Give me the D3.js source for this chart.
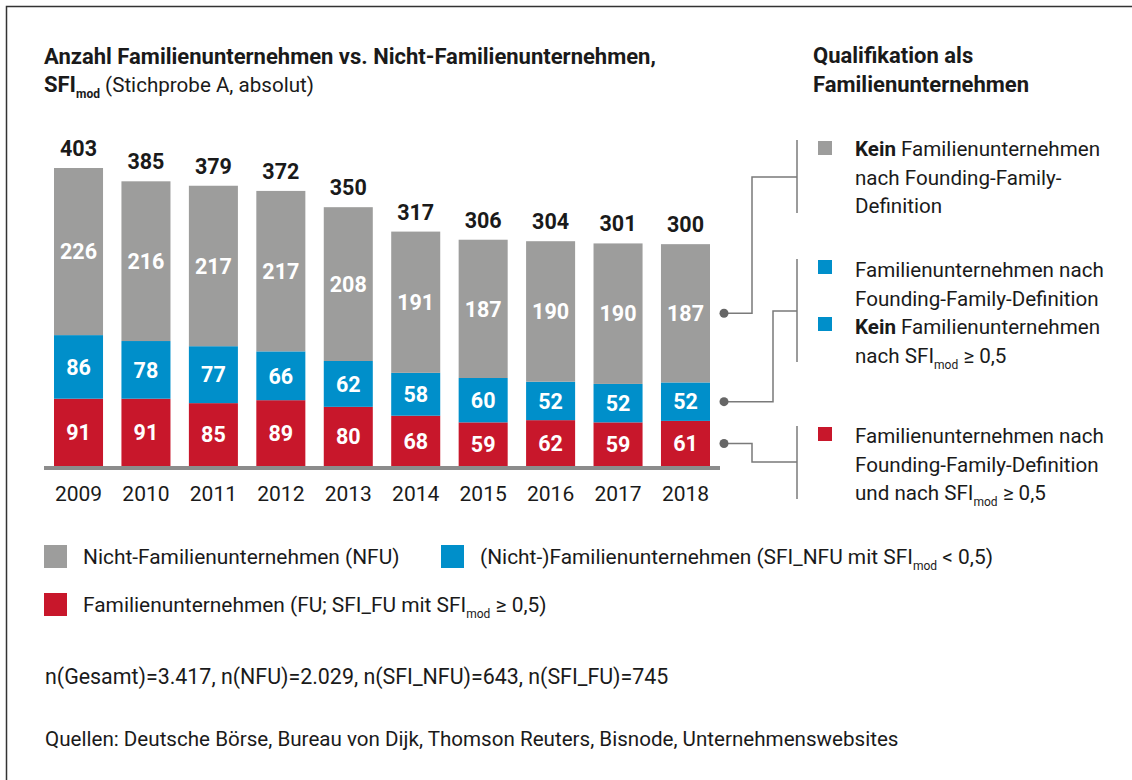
<!DOCTYPE html>
<html>
<head>
<meta charset="utf-8">
<script src="https://cdn.jsdelivr.net/npm/d3@7"></script>
<style>
  body { margin: 0; background: #fff; }
  svg { display: block; }
  text { font-family: Roboto, "Liberation Sans", sans-serif; fill: #1a1a1a; }
</style>
</head>
<body>
<svg id="chart" width="1132" height="780"></svg>
<script>
// Werte aus der Grafik
const years = ['2009', '2010', '2011', '2012', '2013', '2014', '2015', '2016', '2017', '2018']
const fu = [91, 91, 85, 89, 80, 68, 59, 62, 59, 61]          // Familienunternehmen
const sfiNfu = [86, 78, 77, 66, 62, 58, 60, 52, 52, 52]      // (Nicht-)Familienunternehmen
const nfu = [226, 216, 217, 217, 208, 191, 187, 190, 190, 187] // Nicht-Familienunternehmen
const seriesKeys = ['fu', 'sfiNfu', 'nfu']
const seriesColors = { fu: '#c8172b', sfiNfu: '#008fca', nfu: '#9d9d9c' }

const svg = d3.select('#chart')
const bodySize = 20.6
const headSize = 22

// rahmen oben und links
svg.append('path')
    .attr('d', 'M6.5,780 V6.5 H1132')
    .attr('fill', 'none')
    .attr('stroke', '#333')
    .attr('stroke-width', 1.5)

// text mit fett / tiefgestellt
function richText(sel, x, y, parts, size) {
    let t = sel.append('text').attr('x', x).attr('y', y).style('font-size', size + 'px')
    let shifted = 0
    parts.forEach(function (p) {
        let dy = 0
        if (p.sub && !shifted) { dy = 6; shifted = 6 }
        else if (!p.sub && shifted) { dy = -6; shifted = 0 }
        t.append('tspan')
            .attr('dy', dy)
            .style('font-weight', p.b ? 'bold' : 'normal')
            .style('font-size', p.sub ? '12px' : (p.size ? p.size + 'px' : null))
            .text(p.t)
    })
    return t
}

// titel
richText(svg, 44, 64, [{ t: 'Anzahl Familienunternehmen vs. Nicht-Familienunternehmen,', b: true }], headSize)
richText(svg, 44, 92, [{ t: 'SFI', b: true }, { t: 'mod', b: true, sub: true }, { t: ' (Stichprobe A, absolut)', size: bodySize }], headSize)
richText(svg, 813, 63, [{ t: 'Qualifikation als', b: true }], headSize)
richText(svg, 813, 92, [{ t: 'Familienunternehmen', b: true }], headSize)

// skalen
const x = d3.scaleBand().domain(years).range([54, 710]).paddingInner(0.273)
const y = d3.scaleLinear().domain([0, 403]).range([466, 168])

const rows = years.map(function (yr, i) {
    return { year: yr, fu: fu[i], sfiNfu: sfiNfu[i], nfu: nfu[i] }
})
const stacked = d3.stack().keys(seriesKeys)(rows)

const g = svg.append('g')

const layers = g.selectAll('.layer')
    .data(stacked)
    .enter()
    .append('g')
    .attr('fill', function (d) { return seriesColors[d.key] })

layers.selectAll('rect')
    .data(function (d) { return d })
    .enter()
    .append('rect')
    .attr('x', function (d) { return x(d.data.year) })
    .attr('width', x.bandwidth())
    .attr('y', function (d) { return y(d[1]) })
    .attr('height', function (d) { return y(d[0]) - y(d[1]) })

// werte in den segmenten
layers.selectAll('.val')
    .data(function (d) { return d })
    .enter()
    .append('text')
    .attr('x', function (d) { return x(d.data.year) + x.bandwidth() / 2 })
    .attr('y', function (d) { return (y(d[0]) + y(d[1])) / 2 })
    .attr('dy', '0.36em')
    .attr('text-anchor', 'middle')
    .style('fill', '#fff')
    .style('font-weight', 'bold')
    .style('font-size', '21.5px')
    .text(function (d) { return d[1] - d[0] })

// summen
const topLayer = stacked[stacked.length - 1]
g.selectAll('.total')
    .data(topLayer)
    .enter()
    .append('text')
    .attr('x', function (d) { return x(d.data.year) + x.bandwidth() / 2 })
    .attr('y', function (d) { return y(d[1]) - 12 })
    .attr('text-anchor', 'middle')
    .style('font-weight', 'bold')
    .style('font-size', '21.5px')
    .text(function (d) { return d[1] })

// grundlinie
g.append('rect')
    .attr('x', 44).attr('y', y(0))
    .attr('width', 676).attr('height', 4)
    .attr('fill', '#8c8c8c')

// x-achse
const xAxis = g.append('g')
    .attr('transform', 'translate(0,' + (y(0) + 4) + ')')
    .call(d3.axisBottom(x).tickSize(0).tickPadding(0))
xAxis.select('.domain').remove()
xAxis.selectAll('text')
    .attr('dy', 0)
    .attr('y', 31)
    .style('font-family', 'Roboto, "Liberation Sans", sans-serif')
    .style('font-size', '21px')
    .style('fill', '#1a1a1a')

// rechte erklaerung
const note = svg.append('g')
const last = years.length - 1
const dotX = x(years[last]) + x.bandwidth() + 14
const bracketX = 797
const groups = [
    { key: 'nfu', top: 140, bottom: 213, joinY: 177, elbowX: 752 },
    { key: 'sfiNfu', top: 259, bottom: 362, joinY: 311, elbowX: 773 },
    { key: 'fu', top: 426, bottom: 499, joinY: 462, elbowX: 752 }
]
groups.forEach(function (gr) {
    const layer = stacked.find(function (s) { return s.key == gr.key })
    const seg = layer[last]
    const dotY = (y(seg[0]) + y(seg[1])) / 2
    note.append('line')
        .attr('x1', bracketX).attr('x2', bracketX)
        .attr('y1', gr.top).attr('y2', gr.bottom)
        .attr('stroke', '#7a7a7a').attr('stroke-width', 1.5)
    note.append('path')
        .attr('d', 'M' + dotX + ',' + dotY + ' H' + gr.elbowX + ' V' + gr.joinY + ' H' + bracketX)
        .attr('fill', 'none')
        .attr('stroke', '#7a7a7a').attr('stroke-width', 1.5)
    note.append('circle')
        .attr('cx', dotX).attr('cy', dotY).attr('r', 4.5)
        .attr('fill', '#666')
})

const noteItems = [
    { color: seriesColors.nfu, sq: 141, lines: [
        [{ t: 'Kein', b: true }, { t: ' Familienunternehmen' }],
        [{ t: 'nach Founding-Family-' }],
        [{ t: 'Definition' }]], base: 156 },
    { color: seriesColors.sfiNfu, sq: 260, lines: [
        [{ t: 'Familienunternehmen nach' }],
        [{ t: 'Founding-Family-Definition' }]], base: 277 },
    { color: seriesColors.sfiNfu, sq: 317, lines: [
        [{ t: 'Kein', b: true }, { t: ' Familienunternehmen' }],
        [{ t: 'nach SFI' }, { t: 'mod', sub: true }, { t: ' ≥ 0,5' }]], base: 334 },
    { color: seriesColors.fu, sq: 427, lines: [
        [{ t: 'Familienunternehmen nach' }],
        [{ t: 'Founding-Family-Definition' }],
        [{ t: 'und nach SFI' }, { t: 'mod', sub: true }, { t: ' ≥ 0,5' }]], base: 443 }
]
noteItems.forEach(function (it) {
    note.append('rect')
        .attr('x', 818).attr('y', it.sq)
        .attr('width', 14).attr('height', 14)
        .attr('fill', it.color)
    it.lines.forEach(function (ln, j) {
        richText(note, 855, it.base + j * 28.7, ln, bodySize)
    })
})

// legende
const legend = svg.append('g')
const legendItems = [
    { key: 'nfu', x: 44, y: 545, parts: [{ t: 'Nicht-Familienunternehmen (NFU)' }] },
    { key: 'sfiNfu', x: 441, y: 545, parts: [{ t: '(Nicht-)Familienunternehmen (SFI_NFU mit SFI' }, { t: 'mod', sub: true }, { t: ' < 0,5)' }] },
    { key: 'fu', x: 44, y: 593, parts: [{ t: 'Familienunternehmen (FU; SFI_FU mit SFI' }, { t: 'mod', sub: true }, { t: ' ≥ 0,5)' }] }
]
legendItems.forEach(function (it) {
    legend.append('rect')
        .attr('x', it.x).attr('y', it.y)
        .attr('width', 23).attr('height', 23)
        .attr('fill', seriesColors[it.key])
    richText(legend, it.x + 39, it.y + 19, it.parts, 20.9)
})

// fussnoten
richText(svg, 45, 684, [{ t: 'n(Gesamt)=3.417, n(NFU)=2.029, n(SFI_NFU)=643, n(SFI_FU)=745' }], 21.4)
richText(svg, 45, 746, [{ t: 'Quellen: Deutsche Börse, Bureau von Dijk, Thomson Reuters, Bisnode, Unternehmenswebsites' }], bodySize)
</script>
</body>
</html>
